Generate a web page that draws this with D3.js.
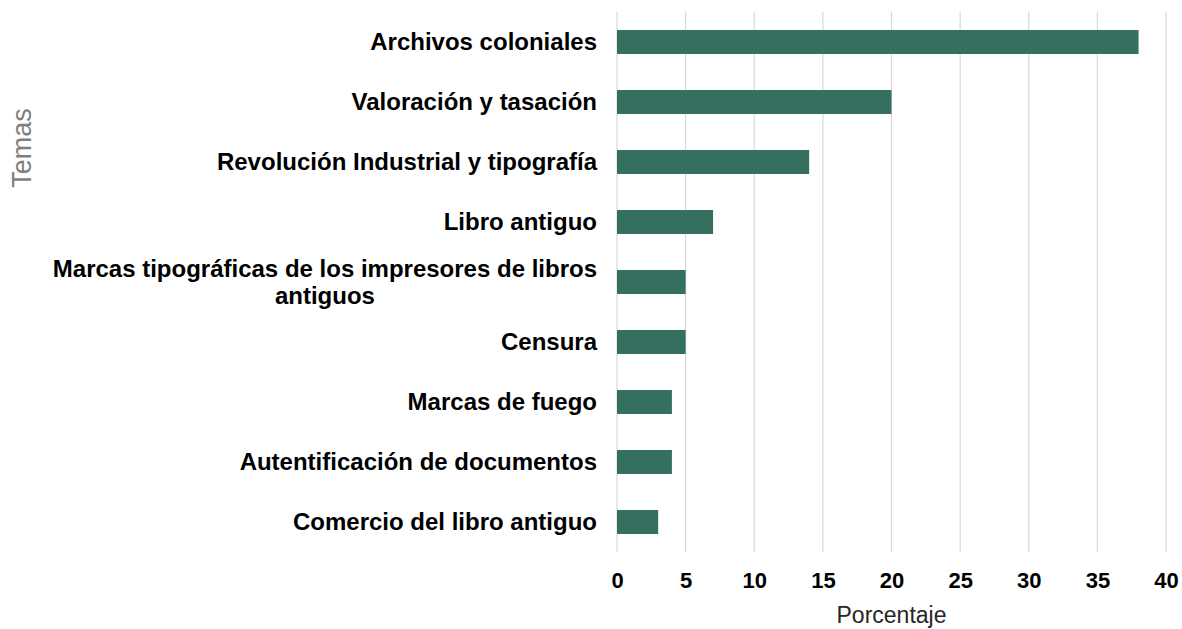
<!DOCTYPE html>
<html>
<head>
<meta charset="utf-8">
<script src="https://cdn.jsdelivr.net/npm/d3@7"></script>
<style>
  body { margin: 0; background: #fff; }
  svg text { font-family: "Liberation Sans", Arial, sans-serif; }
</style>
</head>
<body>
<svg id="chart" width="1182" height="629"></svg>
<script>
var width = 1182, height = 629;

var temas = ["Archivos coloniales", "Valoración y tasación", "Revolución Industrial y tipografía",
        "Libro antiguo", "Marcas tipográficas de los impresores de libros antiguos", "Censura",
        "Marcas de fuego", "Autentificación de documentos", "Comercio del libro antiguo"];
var porcentajes = [38, 20, 14, 7, 5, 5, 4, 4, 3];
var xTicks = [0, 5, 10, 15, 20, 25, 30, 35, 40];

var margin = { top: 12, right: 16, bottom: 77, left: 617 };

var x = d3.scaleLinear()
        .domain([0, 40])
        .range([margin.left, width - margin.right]);

var y = d3.scaleBand()
        .domain(temas)
        .range([margin.top, height - margin.bottom])
        .paddingInner(0.6)
        .paddingOuter(0.3);

var svg = d3.select("#chart");

// vertical gridlines
svg.append("g")
        .selectAll("line")
        .data(xTicks)
        .enter().append("line")
        .attr("x1", function (d) { return x(d); })
        .attr("x2", function (d) { return x(d); })
        .attr("y1", margin.top)
        .attr("y2", height - margin.bottom)
        .attr("stroke", "#d9d9d9")
        .attr("stroke-width", 1.2);

// bars
svg.append("g")
        .selectAll("rect")
        .data(porcentajes)
        .enter().append("rect")
        .attr("x", x(0))
        .attr("y", function (d, i) { return y(temas[i]); })
        .attr("width", function (d) { return x(d) - x(0); })
        .attr("height", y.bandwidth())
        .attr("fill", "#346f5f");

// x axis
var x_axis = d3.axisBottom(x)
        .tickValues(xTicks)
        .tickSize(0)
        .tickPadding(0);

var gx = svg.append("g")
        .attr("transform", "translate(0," + (height - margin.bottom) + ")")
        .call(x_axis);
gx.select(".domain").remove();
gx.selectAll("text")
        .attr("y", 20)
        .attr("dy", "0.71em")
        .style("font-size", "22px")
        .style("font-weight", "bold")
        .style("fill", "#000");

// y axis labels (wrapped, centre aligned block, right edge at 597)
var labelRight = 597, maxW = 560, fs = 24;
var gy = svg.append("g");
temas.forEach(function (t) {
        var words = t.split(" ");
        var lines = [], cur = "";
        var probe = gy.append("text")
                .style("font-size", fs + "px").style("font-weight", "bold");
        words.forEach(function (w) {
                var test = cur ? cur + " " + w : w;
                probe.text(test);
                if (probe.node().getComputedTextLength() > maxW && cur) {
                        lines.push(cur);
                        cur = w;
                } else {
                        cur = test;
                }
        });
        lines.push(cur);
        var widths = lines.map(function (l) {
                probe.text(l);
                return probe.node().getComputedTextLength();
        });
        probe.remove();
        var blockW = d3.max(widths);
        var cy = y(t) + y.bandwidth() / 2;
        var lh = 27;
        var txt = gy.append("text")
                .attr("text-anchor", "middle")
                .attr("y", cy - (lines.length - 1) * lh / 2)
                .style("font-size", fs + "px")
                .style("font-weight", "bold")
                .style("fill", "#000");
        lines.forEach(function (l, i) {
                txt.append("tspan")
                        .attr("x", labelRight - blockW / 2)
                        .attr("dy", i === 0 ? "0.35em" : lh)
                        .text(l);
        });
});

// axis titles
svg.append("text")
        .attr("x", x(20))
        .attr("y", 615)
        .attr("dy", "0.35em")
        .attr("text-anchor", "middle")
        .style("font-size", "23px")
        .style("fill", "#262626")
        .text("Porcentaje");

svg.append("text")
        .attr("transform", "translate(22,148) rotate(-90)")
        .attr("text-anchor", "middle")
        .attr("dy", "0.35em")
        .style("font-size", "27px")
        .style("fill", "#7f7f7f")
        .text("Temas");
</script>
</body>
</html>
